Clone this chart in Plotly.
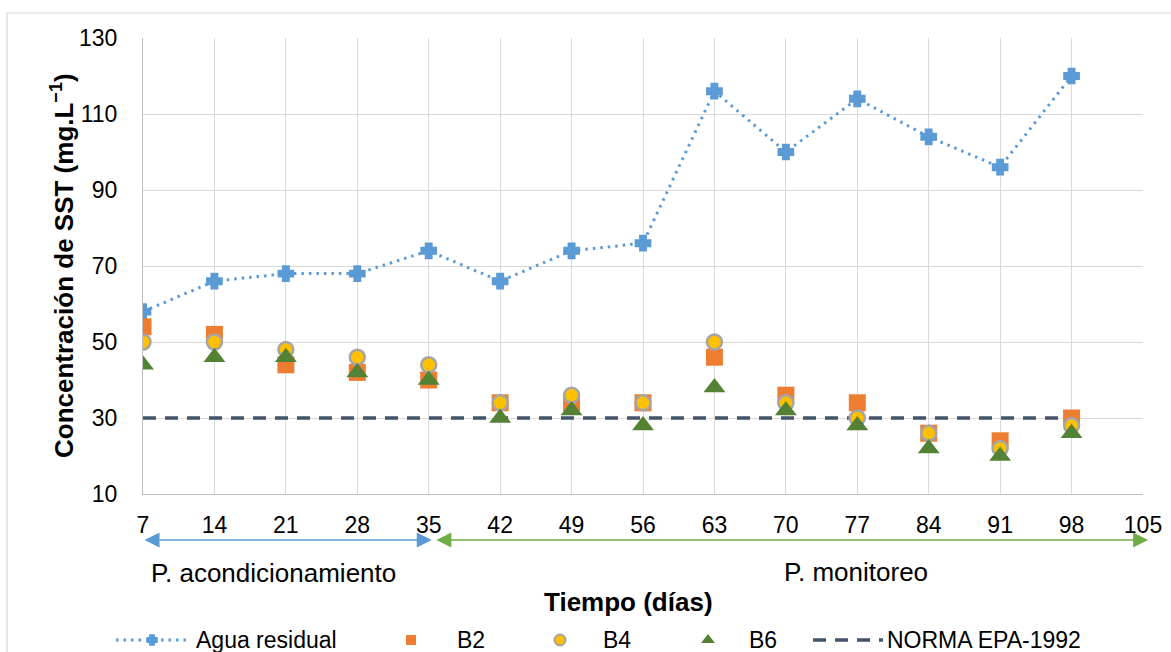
import plotly.graph_objects as go

# --- data -------------------------------------------------------------
dias = [7, 14, 21, 28, 35, 42, 49, 56, 63, 70, 77, 84, 91, 98]
agua_residual = [58, 66, 68, 68, 74, 66, 74, 76, 116, 100, 114, 104, 96, 120]
b2 = [54, 52, 44, 42, 40, 34, 34, 34, 46, 36, 34, 26, 24, 30]
b4 = [50, 50, 48, 46, 44, 34, 36, 34, 50, 34, 30, 26, 22, 28]
b6 = [44, 46, 46, 42, 40, 30, 32, 28, 38, 32, 28, 22, 20, 26]
norma_epa = [30] * len(dias)

x_ticks = list(range(7, 106, 7))
y_ticks = list(range(10, 131, 20))

# period boundaries (days)
acond_range = (7, 35.3)
monit_range = (35.6, 105.5)

# --- styling ------------------------------------------------------------
W, H = 1171, 652
FONT = "Liberation Sans, Arial, sans-serif"
GRID = "#D9D9D9"
AXIS = "#BFBFBF"
BLUE = "#5B9BD5"
ORANGE = "#ED7D31"
GOLD = "#FFC000"
GREEN_MK = "#548235"
GREEN_ARROW = "#70AD47"
NAVY = "#44546A"

# plot area in pixels
PX_L, PX_R, PX_T, PX_B = 143, 1143, 38, 494


def px_x(p):
    return p / W


def px_y(p):
    return 1 - p / H


AGUA_MARKER = dict(symbol="cross", size=11, color=BLUE,
                   line=dict(color=BLUE, width=3.5))

fig = go.Figure()

fig.add_trace(go.Scatter(
    x=dias, y=agua_residual, name="Agua residual", mode="lines+markers",
    line=dict(color=BLUE, width=3, dash="2.5px,5px"),
    marker=AGUA_MARKER,
))
fig.add_trace(go.Scatter(
    x=dias, y=norma_epa, name="NORMA EPA-1992", mode="lines",
    line=dict(color=NAVY, width=3.5, dash="13px,9px"),
))
fig.add_trace(go.Scatter(
    x=dias, y=b2, name="B2", mode="markers",
    marker=dict(symbol="square", size=17, color=ORANGE),
))
fig.add_trace(go.Scatter(
    x=dias, y=b4, name="B4", mode="markers",
    marker=dict(symbol="circle", size=15, color=GOLD,
                line=dict(color="#A5A5A5", width=2.5)),
))
fig.add_trace(go.Scatter(
    x=dias, y=b6, name="B6", mode="markers",
    marker=dict(symbol="triangle-up", size=19, color=GREEN_MK),
))

# --- custom legend drawn on a pixel-space overlay axis -------------------
LEG_Y = 640
legend_items = [
    # name, glyph kind, glyph x (px), text x (px)
    ("Agua residual", "agua", 152, 194),
    ("B2", "b2", 411, 455),
    ("B4", "b4", 560, 601),
    ("B6", "b6", 708, 747),
    ("NORMA EPA-1992", "norma", 848, 885),
]
for name, kind, gx, tx in legend_items:
    if kind == "agua":
        fig.add_trace(go.Scatter(
            x=[gx - 36, gx + 36], y=[LEG_Y, LEG_Y], mode="lines",
            line=dict(color=BLUE, width=3, dash="2.5px,5px"),
            xaxis="x2", yaxis="y2", hoverinfo="skip"))
        fig.add_trace(go.Scatter(
            x=[gx], y=[LEG_Y], mode="markers",
            marker=dict(symbol="cross", size=7, color=BLUE,
                        line=dict(color=BLUE, width=3)),
            xaxis="x2", yaxis="y2", hoverinfo="skip"))
    elif kind == "norma":
        fig.add_trace(go.Scatter(
            x=[gx - 35, gx + 35], y=[LEG_Y, LEG_Y], mode="lines",
            line=dict(color=NAVY, width=3.5, dash="13px,9px"),
            xaxis="x2", yaxis="y2", hoverinfo="skip"))
    else:
        mk = {
            "b2": dict(symbol="square", size=10, color=ORANGE),
            "b4": dict(symbol="circle", size=11, color=GOLD,
                       line=dict(color="#A5A5A5", width=2)),
            "b6": dict(symbol="triangle-up", size=12, color=GREEN_MK),
        }[kind]
        fig.add_trace(go.Scatter(
            x=[gx], y=[LEG_Y], mode="markers", marker=mk,
            xaxis="x2", yaxis="y2", hoverinfo="skip"))

annotations = []
for name, kind, gx, tx in legend_items:
    annotations.append(dict(
        x=px_x(tx), y=px_y(LEG_Y), xref="paper", yref="paper",
        text=name, showarrow=False, xanchor="left", yanchor="middle",
        font=dict(size=23, color="black")))

# period arrows
ARROW_Y = px_y(540)
for (x0, x1), col in ((acond_range, BLUE), (monit_range, GREEN_ARROW)):
    annotations.append(dict(
        x=x1, y=ARROW_Y, xref="x", yref="paper",
        ax=x0, ay=0, axref="x", ayref="pixel",
        text="", showarrow=True, arrowside="end+start",
        arrowhead=2, arrowsize=2, arrowwidth=1.5, arrowcolor=col,
        standoff=0, startstandoff=0))

annotations.append(dict(
    x=px_x(273), y=px_y(573), xref="paper", yref="paper",
    text="P. acondicionamiento", showarrow=False,
    xanchor="center", yanchor="middle", font=dict(size=26)))
annotations.append(dict(
    x=px_x(856), y=px_y(572), xref="paper", yref="paper",
    text="P. monitoreo", showarrow=False,
    xanchor="center", yanchor="middle", font=dict(size=26)))
annotations.append(dict(
    x=px_x(628), y=px_y(602), xref="paper", yref="paper",
    text="<b>Tiempo (días)</b>", showarrow=False,
    xanchor="center", yanchor="middle", font=dict(size=26)))
annotations.append(dict(
    x=px_x(62), y=px_y(266), xref="paper", yref="paper",
    text="<b>Concentración de SST (mg.L<sup>−1</sup>)</b>", showarrow=False,
    textangle=-90, xanchor="center", yanchor="middle", font=dict(size=26)))

# outer chart frame
shapes = [dict(
    type="rect", xref="paper", yref="paper",
    x0=px_x(7), x1=1.02, y0=-0.05, y1=px_y(13),
    line=dict(color=GRID, width=1.2), fillcolor="rgba(0,0,0,0)", layer="below")]

fig.update_layout(
    width=W, height=H,
    margin=dict(l=0, r=0, t=0, b=0, pad=0),
    paper_bgcolor="white", plot_bgcolor="rgba(0,0,0,0)",
    showlegend=False,
    font=dict(family=FONT, size=23, color="black"),
    annotations=annotations,
    shapes=shapes,
    xaxis=dict(
        domain=[px_x(PX_L), px_x(PX_R)], range=[7, 105],
        tickmode="array", tickvals=x_ticks, ticks="",
        showgrid=True, gridcolor=GRID, gridwidth=1.2,
        showline=True, linecolor=AXIS, linewidth=1.2,
        zeroline=False, ticklabelstandoff=10, automargin=False,
        tickfont=dict(size=23),
    ),
    yaxis=dict(
        domain=[px_y(PX_B), px_y(PX_T)], range=[10, 130],
        tickmode="array", tickvals=y_ticks, ticks="",
        showgrid=True, gridcolor=GRID, gridwidth=1.2,
        showline=True, linecolor=AXIS, linewidth=1.2,
        zeroline=False, ticklabelstandoff=20, automargin=False,
        tickfont=dict(size=23),
    ),
    xaxis2=dict(domain=[0, 1], range=[0, W], visible=False,
                anchor="y2", fixedrange=True, automargin=False),
    yaxis2=dict(domain=[0, 1], range=[H, 0], visible=False,
                anchor="x2", fixedrange=True, automargin=False),
)

fig.write_html("out.html")
